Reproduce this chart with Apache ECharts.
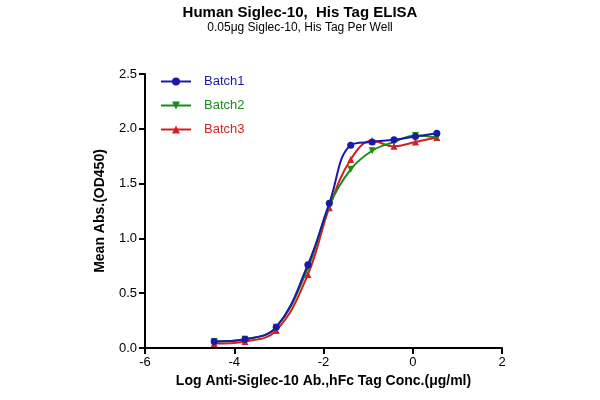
<!DOCTYPE html>
<html><head><meta charset="utf-8">
<script src="https://cdn.jsdelivr.net/npm/echarts@6/dist/echarts.min.js"></script>
<style>html,body{margin:0;padding:0;background:#fff}#c{width:600px;height:400px}</style>
</head><body><div id="c"></div>
<script>
const logConc = [-4.45, -3.76, -3.06, -2.35, -1.87, -1.39, -0.91, -0.42, 0.06, 0.54];
const batch1 = [0.06, 0.08, 0.19, 0.76, 1.32, 1.85, 1.88, 1.90, 1.93, 1.96];
const batch2 = [0.06, 0.08, 0.19, 0.73, 1.30, 1.63, 1.80, 1.88, 1.94, 1.92];
const batch3 = [0.04, 0.06, 0.16, 0.67, 1.28, 1.72, 1.89, 1.84, 1.88, 1.92];
const names = ['Batch1', 'Batch2', 'Batch3'];
const colors = ['#1a1aa6', '#1a8a1a', '#d41f1f'];
const symbols = ['circle', 'triangle', 'triangle'];
const data = [batch1, batch2, batch3];
const chart = echarts.init(document.getElementById('c'));
chart.setOption({
  animation: false,
  title: {text: 'Human Siglec-10,  His Tag ELISA', subtext: '0.05μg Siglec-10, His Tag Per Well', left: 'center', top: 0,
    itemGap: 2,
    textStyle: {fontFamily: 'Liberation Sans', fontWeight: 'bold', fontSize: 15, color: '#000'},
    subtextStyle: {fontFamily: 'Liberation Sans', fontSize: 12, color: '#000'}},
  legend: {orient: 'vertical', left: 155, top: 70, itemGap: 11, itemWidth: 30, itemHeight: 10,
    data: names.map((n, i) => ({name: n, textStyle: {color: colors[i]}})),
    textStyle: {fontFamily: 'Liberation Sans', fontSize: 13, padding: [0, 0, 0, 8]}},
  grid: {left: 145, right: 98, top: 74, bottom: 52},
  xAxis: {type: 'value', min: -6, max: 2, interval: 2,
    name: 'Log Anti-Siglec-10 Ab.,hFc Tag Conc.(μg/ml)', nameLocation: 'middle', nameGap: 26,
    nameTextStyle: {fontFamily: 'Liberation Sans', fontWeight: 'bold', fontSize: 14, color: '#000'},
    axisLine: {onZero: false, lineStyle: {color: '#000', width: 2}}, axisTick: {lineStyle: {color: '#000', width: 2}, length: 6},
    axisLabel: {color: '#000', fontSize: 13, fontFamily: 'Liberation Sans'}, splitLine: {show: false}},
  yAxis: {type: 'value', min: 0, max: 2.5, interval: 0.5,
    name: 'Mean Abs.(OD450)', nameLocation: 'middle', nameGap: 38,
    nameTextStyle: {fontFamily: 'Liberation Sans', fontWeight: 'bold', fontSize: 14, color: '#000'},
    axisLine: {show: true, onZero: false, lineStyle: {color: '#000', width: 2}}, axisTick: {show: true, lineStyle: {color: '#000', width: 2}, length: 6},
    axisLabel: {color: '#000', fontSize: 13, fontFamily: 'Liberation Sans', formatter: v => v.toFixed(1)}, splitLine: {show: false}},
  series: names.map((n, i) => ({
    name: n, type: 'line', smooth: 0.4, data: logConc.map((x, j) => [x, data[i][j]]),
    symbol: symbols[i], symbolSize: 7, symbolRotate: i === 1 ? 180 : 0,
    itemStyle: {color: colors[i]}, lineStyle: {color: colors[i], width: 2}, z: 3 - i
  }))
});
</script></body></html>
